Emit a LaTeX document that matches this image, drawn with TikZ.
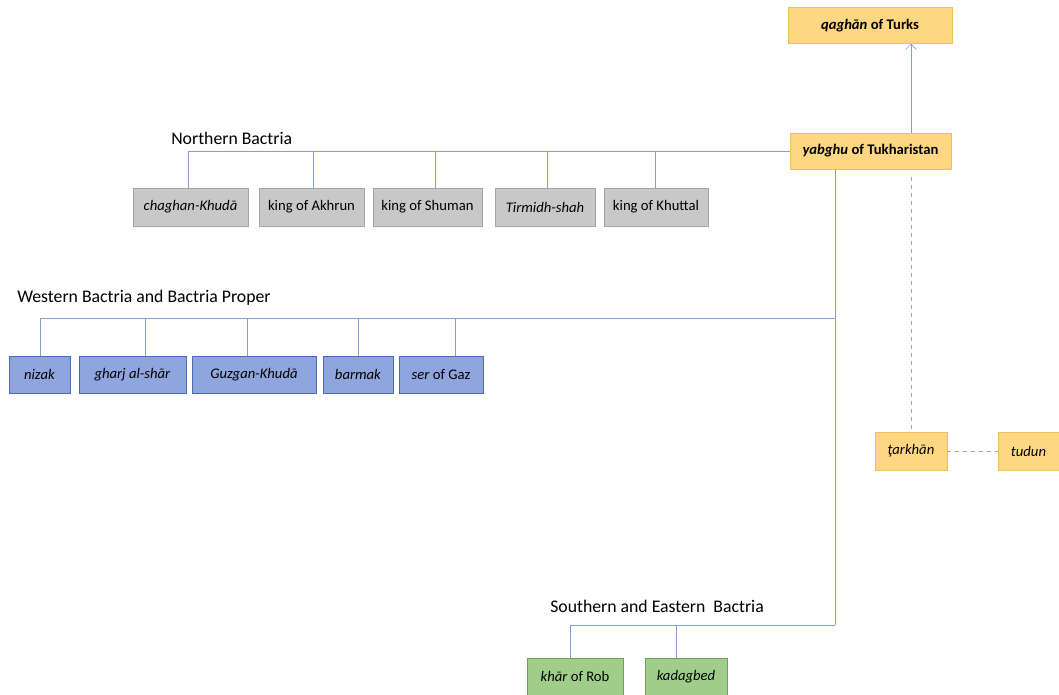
\documentclass[tikz,border=0pt]{standalone}
\usepackage{fontspec}
\setmainfont{Carlito}
\usetikzlibrary{arrows.meta}

\definecolor{lnkc}{RGB}{132,160,210}
\definecolor{orfill}{RGB}{255,214,130}
\definecolor{ordraw}{RGB}{240,190,95}
\definecolor{grfill}{RGB}{200,200,200}
\definecolor{grdraw}{RGB}{165,165,165}
\definecolor{blfill}{RGB}{143,165,222}
\definecolor{bldraw}{RGB}{75,105,185}
\definecolor{gnfill}{RGB}{160,206,138}
\definecolor{gndraw}{RGB}{105,165,85}

\begin{document}
\begin{tikzpicture}[x=0.75pt,y=-0.75pt]
    \tikzstyle{box}=[inner sep=0pt, font=\fontsize{11}{13}\selectfont]
    \tikzstyle{obox}=[box, fill=orfill, draw=ordraw, minimum height=27pt]
    \tikzstyle{gbox}=[box, fill=grfill, draw=grdraw, minimum height=28.5pt]
    \tikzstyle{bbox}=[box, fill=blfill, draw=bldraw, minimum height=28pt]
    \tikzstyle{nbox}=[box, fill=gnfill, draw=gndraw, minimum height=28pt]
    \tikzstyle{lnk}=[lnkc, thin]
    \tikzstyle{dlnk}=[gray!70, thin, dashed]
    \tikzstyle{ttl}=[anchor=south west, inner sep=0pt, font=\fontsize{13.3}{16}\selectfont]

    \useasboundingbox (0,0) rectangle (1059,695);

    % top of the hierarchy
    \node[obox, minimum width=123pt] (qaghan) at (870,25.5) {\textbf{\textit{qaghān} of Turks}};
    \node[obox, minimum width=121pt] (yabghu) at (870.5,151) {\textbf{\textit{yabghu} of Tukharistan}};
    \draw[lnk, -{Straight Barb[length=4pt]}] (yabghu.north -| 911,0) -- (qaghan.south -| 911,0);

    % Northern Bactria
    \node[ttl] (nlab) at (171,145) {Northern Bactria};
    \node[gbox, minimum width=86pt] (chaghan) at (190.5,207) {\textit{chaghan-Khudā}};
    \node[gbox, minimum width=79pt] (akhrun) at (311.5,207) {king of Akhrun};
    \node[gbox, minimum width=82pt] (shuman) at (427.5,207) {king of Shuman};
    \node[gbox, minimum width=75pt] (tirmidh) at (545,207) {\textit{Tirmidh-shah}};
    \node[gbox, minimum width=78pt] (khuttal) at (656,207) {king of Khuttal};
    \foreach \n/\x in {chaghan/188, akhrun/313, shuman/435, tirmidh/547, khuttal/655} {
        \draw[lnk] (\n.north -| \x,0) |- (yabghu.west);
    }

    % Western Bactria and Bactria Proper
    \coordinate (wj) at (835,318);
    \coordinate (sj) at (835,625);
    \draw[lnk] (yabghu.south -| sj) -- (sj);
    \node[ttl] (wlab) at (17,306) {Western Bactria and Bactria Proper};
    \node[bbox, minimum width=46pt] (nizak) at (39.5,374.5) {\textit{nizak}};
    \node[bbox, minimum width=80pt] (gharj) at (132.5,374.5) {\textit{gharj al-shār}};
    \node[bbox, minimum width=93pt] (guzgan) at (254,374.5) {\textit{Guzgan-Khudā}};
    \node[bbox, minimum width=52.5pt] (barmak) at (358,374.5) {\textit{barmak}};
    \node[bbox, minimum width=63pt] (ser) at (441,374.5) {\textit{ser} of Gaz};
    \foreach \n/\x in {nizak/40, gharj/145, guzgan/247, barmak/358, ser/455} {
        \draw[lnk] (\n.north -| \x,0) |- (wj);
    }

    % Southern and Eastern Bactria
    \node[ttl] (slab) at (550,613) {Southern and Eastern\ \ Bactria};
    \node[nbox, minimum width=72pt] (khar) at (575,676.5) {\textit{khār} of Rob};
    \node[nbox, minimum width=61.5pt] (kadag) at (686,676.5) {\textit{kadagbed}};
    \foreach \n/\x in {khar/570, kadag/676} {
        \draw[lnk] (\n.north -| \x,0) |- (sj);
    }

    % officials
    \node[obox, minimum width=54pt, minimum height=28.5pt] (tarkhan) at (911,451) {\textit{ţarkhān}};
    \node[obox, minimum width=46pt, minimum height=28.5pt] (tudun) at (1028.5,451) {\textit{tudun}};
    \draw[dlnk] ([yshift=-6pt]yabghu.south -| tarkhan.north) -- (tarkhan.north);
    \draw[dlnk] (tarkhan) -- (tudun);

\end{tikzpicture}
\end{document}
